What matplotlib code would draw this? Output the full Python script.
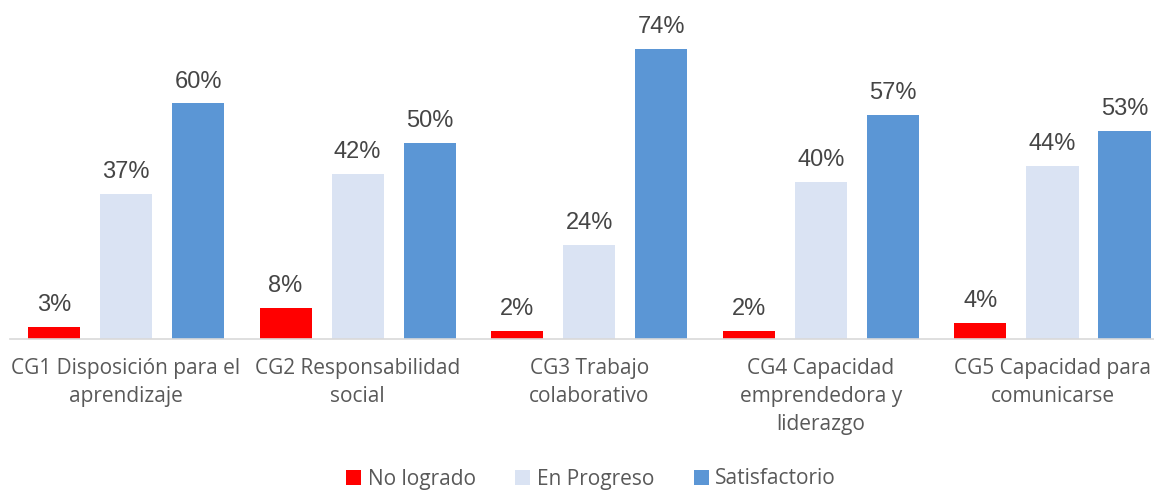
import matplotlib
matplotlib.use("Agg")
import matplotlib.pyplot as plt
import numpy as np

categories = ["CG1 Disposición para el\naprendizaje",
              "CG2 Responsabilidad\nsocial",
              "CG3 Trabajo\ncolaborativo",
              "CG4 Capacidad\nemprendedora y\nliderazgo",
              "CG5 Capacidad para\ncomunicarse"]
series_names = ["No logrado", "En Progreso", "Satisfactorio"]
no_logrado = [3, 8, 2, 2, 4]
en_progreso = [37, 42, 24, 40, 44]
satisfactorio = [60, 50, 74, 57, 53]
colors = ["#FF0000", "#DAE3F3", "#5B96D5"]

fig = plt.figure(figsize=(11.54, 4.91), dpi=100)
ax = fig.add_axes([10.25/1154, 152/491, 1158/1154, 314/491])

x = np.arange(len(categories))
width = 0.225
step = 0.311
all_series = [no_logrado, en_progreso, satisfactorio]
for i, (vals, name, c) in enumerate(zip(all_series, series_names, colors)):
    pos = x + (i - 1) * step
    ax.bar(pos, vals, width=width, color=c, label=name)
    for px, v in zip(pos, vals):
        ax.annotate(f"{v}%", (px, v), xytext=(0, 11.5), textcoords="offset points",
                    ha="center", va="baseline", fontsize=17, color="#454545",
                    family="Liberation Sans", annotation_clip=False)

ax.set_xlim(-0.5, len(categories) - 0.5)
ax.set_ylim(0, 80)
ax.set_yticks([])
ax.set_xticks(x)
ax.set_xticklabels(categories, fontsize=15, color="#595959", family="Open Sans",
                   linespacing=1.42)
ax.tick_params(axis="x", length=0, pad=14)
for s in ["top", "right", "left"]:
    ax.spines[s].set_visible(False)
ax.spines["bottom"].set_color("#D9D9D9")
ax.spines["bottom"].set_linewidth(1.2)

leg = fig.legend(loc="center", bbox_to_anchor=(591/1154, 1 - 479/491), ncol=3,
                 frameon=False, handlelength=0.72, handleheight=0.72,
                 columnspacing=1.9, handletextpad=0.3,
                 prop={"family": "Open Sans", "size": 15})
for t in leg.get_texts():
    t.set_color("#595959")

fig.savefig("out.png", dpi=100)
